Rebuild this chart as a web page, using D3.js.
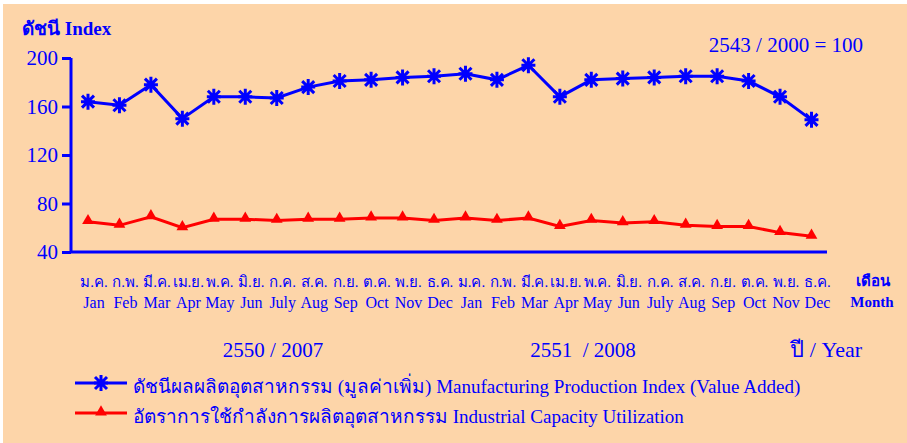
<!DOCTYPE html>
<html>
<head>
<meta charset="utf-8">
<script src="https://cdn.jsdelivr.net/npm/d3@7"></script>
<style>
  body { margin: 0; background: #fff; }
  svg text { font-family: "Liberation Serif", "Times New Roman", serif; fill: #0000ff; }
</style>
</head>
<body>
<svg id="chart" width="907" height="443"></svg>
<script>
// months, Thai and English
var monthsTh = ["ม.ค.","ก.พ.","มี.ค.","เม.ย.","พ.ค.","มิ.ย.","ก.ค.","ส.ค.","ก.ย.","ต.ค.","พ.ย.","ธ.ค.",
                "ม.ค.","ก.พ.","มี.ค.","เม.ย.","พ.ค.","มิ.ย.","ก.ค.","ส.ค.","ก.ย.","ต.ค.","พ.ย.","ธ.ค."];
var monthsEn = ["Jan","Feb","Mar","Apr","May","Jun","July","Aug","Sep","Oct","Nov","Dec",
                "Jan","Feb","Mar","Apr","May","Jun","July","Aug","Sep","Oct","Nov","Dec"];
var productionIndex = [164,161,178,150,168,168,167,176,181,182,184,185,
                       187,182,194,168,182,183,184,185,185,181,168,149];
var capacityUtil = [65,62,69,60,67,67,66,67,67,68,68,66,
                    68,66,68,61,66,64,65,62,61,61,56,53];
var yTicks = [40,80,120,160,200];
var yearLabels = ["2550 / 2007","2551  / 2008"];

var svg = d3.select("#chart");

svg.append("rect")
  .attr("x", 3).attr("y", 4)
  .attr("width", 904).attr("height", 439)
  .attr("fill", "#fdd5a9");

var idx = d3.range(monthsEn.length);
var x = d3.scalePoint().domain(idx).range([88, 811.5]);
var y = d3.scaleLinear().domain([40, 200]).range([252, 58]);

// y axis
var yAxis = d3.axisLeft(y).tickValues(yTicks).tickSize(9).tickPadding(4);
var gy = svg.append("g").attr("transform", "translate(71,0)").call(yAxis);
gy.select(".domain").attr("stroke", "#0000ff").attr("stroke-width", 3).attr("d", "M0,58V252");
gy.selectAll(".tick line").attr("stroke", "#0000ff").attr("stroke-width", 3);
gy.selectAll(".tick text").style("font-size", "21px").attr("fill", "#0000ff");

// x axis line
svg.append("line")
  .attr("x1", 70).attr("x2", 827)
  .attr("y1", 252).attr("y2", 252)
  .attr("stroke", "#0000ff").attr("stroke-width", 3);

// month labels
svg.selectAll(".mth")
  .data(idx).enter().append("text")
  .attr("x", function(d) { return x(d) + 6; })
  .attr("y", 287)
  .attr("text-anchor", "middle")
  .style("font-size", "15px")
  .text(function(d) { return monthsTh[d]; });
svg.selectAll(".men")
  .data(idx).enter().append("text")
  .attr("x", function(d) { return x(d) + 6; })
  .attr("y", 308)
  .attr("text-anchor", "middle")
  .style("font-size", "16px")
  .text(function(d) { return monthsEn[d]; });

svg.append("text").attr("x", 873).attr("y", 286).attr("text-anchor", "middle")
  .style("font-size", "15px").style("font-weight", "bold").text("เดือน");
svg.append("text").attr("x", 872).attr("y", 307).attr("text-anchor", "middle")
  .style("font-size", "15px").style("font-weight", "bold").text("Month");

// titles
svg.append("text").attr("x", 22).attr("y", 35)
  .style("font-size", "19px").style("font-weight", "bold").text("ดัชนี  Index");
svg.append("text").attr("x", 863).attr("y", 52).attr("text-anchor", "end")
  .style("font-size", "21px").text("2543 / 2000 = 100");

svg.append("text").attr("x", 273).attr("y", 357).attr("text-anchor", "middle")
  .style("font-size", "21px").text(yearLabels[0]);
svg.append("text").attr("x", 583).attr("y", 357).attr("text-anchor", "middle")
  .style("font-size", "21px").style("white-space", "pre").text(yearLabels[1]);
svg.append("text").attr("x", 862).attr("y", 357).attr("text-anchor", "end")
  .style("font-size", "22px").text("ปี / Year");

// lines
var line = function(vals) {
  return d3.line().x(function(d, i) { return x(i); }).y(function(d) { return y(d); })(vals);
};

svg.append("path").attr("d", line(capacityUtil))
  .attr("fill", "none").attr("stroke", "#ff0000").attr("stroke-width", 3);
svg.append("path").attr("d", line(productionIndex))
  .attr("fill", "none").attr("stroke", "#0000ff").attr("stroke-width", 3);

var star = "M-7,0H7M0,-8V8M-6,-6L6,6M-6,6L6,-6";
var tri = d3.symbol().type(d3.symbolTriangle).size(60);

svg.selectAll(".tri")
  .data(capacityUtil).enter().append("path")
  .attr("transform", function(d, i) { return "translate(" + x(i) + "," + (y(d) - 1) + ")"; })
  .attr("d", tri)
  .attr("fill", "#ff0000");

svg.selectAll(".star")
  .data(productionIndex).enter().append("path")
  .attr("transform", function(d, i) { return "translate(" + x(i) + "," + y(d) + ")"; })
  .attr("d", star)
  .attr("stroke", "#0000ff").attr("stroke-width", 3).attr("fill", "none");

// legend
var legend = [
  {label: "ดัชนีผลผลิตอุตสาหกรรม (มูลค่าเพิ่ม) Manufacturing Production Index (Value Added)", color: "#0000ff", mark: "star"},
  {label: "อัตราการใช้กำลังการผลิตอุตสาหกรรม Industrial Capacity Utilization", color: "#ff0000", mark: "tri"}
];
var lg = svg.selectAll(".lg").data(legend).enter().append("g")
  .attr("transform", function(d, i) { return "translate(0," + (383 + i * 30) + ")"; });
lg.append("line").attr("x1", 75).attr("x2", 127)
  .attr("stroke", function(d) { return d.color; }).attr("stroke-width", 3);
lg.append("path")
  .attr("transform", function(d) { return "translate(101," + (d.mark == "tri" ? -1 : 0) + ")"; })
  .attr("d", function(d) { return d.mark == "tri" ? tri() : star; })
  .attr("fill", function(d) { return d.mark == "tri" ? d.color : "none"; })
  .attr("stroke", function(d) { return d.mark == "tri" ? "none" : d.color; })
  .attr("stroke-width", 3);
lg.append("text").attr("x", 133).attr("y", 10)
  .style("font-size", "19px")
  .text(function(d) { return d.label; });
</script>
</body>
</html>
